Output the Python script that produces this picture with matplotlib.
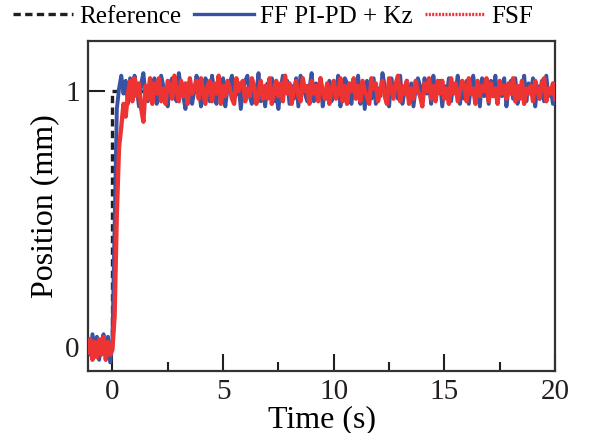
import numpy as np
import matplotlib
matplotlib.use("Agg")
import matplotlib.pyplot as plt
from matplotlib.lines import Line2D
from matplotlib.ticker import MultipleLocator

plt.rcParams['font.family'] = ['Liberation Serif', 'DejaVu Serif']

# time grid: 0.1 s samples from -1.1 s to 20 s
t_start = -1.1
dt = 0.1

# step reference
ref_t = [-1.1, 0.0, 0.0, 20.0]
ref_y = [0.0, 0.0, 1.0, 1.0]

# FF PI-PD + Kz (blue)
blue = [
    0.03, -0.03, 0.05, -0.02, 0.04, -0.05, 0.02, 0.05, -0.03, 0.04,
    -0.06, 0.02, 0.48, 0.93, 1.01, 1.06, 0.99, 1.04, 0.95, 1.05,
    0.97, 1.06, 1.01, 0.94, 1.03, 1.07, 0.98, 0.96, 1.04, 1.00,
    1.05, 0.95, 0.99, 1.06, 1.02, 0.97, 0.94, 1.03, 1.05, 0.99,
    0.96, 1.07, 1.01, 0.98, 0.93, 1.02, 1.04, 0.95, 1.00, 1.06,
    1.02, 0.94, 0.99, 1.05, 1.03, 0.96, 1.06, 1.00, 0.95, 1.04,
    0.98, 1.05, 0.94, 1.01, 1.03, 1.06, 0.97, 0.99, 1.03, 0.93,
    1.01, 1.04, 1.06, 0.98, 0.95, 1.02, 0.99, 1.07, 0.96, 1.01,
    0.94, 1.03, 1.00, 1.05, 0.96, 0.98, 0.93, 1.01, 1.06, 1.02,
    1.04, 0.95, 1.02, 0.97, 1.05, 0.94, 1.06, 1.01, 0.99, 0.96,
    1.01, 1.07, 0.96, 1.03, 0.98, 1.05, 0.94, 1.00, 0.97, 1.04,
    0.96, 1.02, 0.99, 1.06, 0.94, 1.01, 1.05, 1.03, 0.97, 0.95,
    1.04, 0.99, 1.06, 0.95, 1.02, 0.93, 1.04, 1.00, 0.97, 1.05,
    0.95, 1.01, 0.98, 1.07, 1.02, 0.96, 0.94, 1.05, 0.99, 1.03,
    0.97, 1.06, 0.95, 1.00, 1.04, 0.96, 1.03, 0.94, 1.01, 1.05,
    1.02, 0.96, 1.05, 0.99, 1.03, 0.95, 1.06, 0.98, 1.00, 1.04,
    0.94, 1.02, 0.98, 1.05, 0.96, 1.03, 1.00, 1.06, 0.95, 1.01,
    0.97, 1.04, 0.95, 1.02, 1.06, 0.99, 1.03, 0.94, 1.05, 0.98,
    1.02, 0.95, 1.04, 0.99, 1.06, 0.96, 1.01, 0.98, 1.05, 0.94,
    1.01, 1.04, 0.97, 1.05, 0.95, 1.02, 0.99, 1.06, 0.96, 1.03,
    0.99, 1.05, 0.94, 1.02, 0.97, 1.04, 0.96, 1.06, 0.98, 1.01,
    0.95, 1.03,
]

# FSF (red)
red = [
    -0.02, 0.03, -0.05, 0.02, -0.04, 0.03, -0.03, 0.04, -0.05, 0.02,
    -0.03, -0.01, 0.12, 0.52, 0.78, 0.86, 0.95, 0.90, 0.99, 1.04,
    0.96, 1.05, 0.98, 1.03, 0.93, 0.88, 1.02, 0.97, 1.05, 0.95,
    1.03, 0.99, 1.05, 0.96, 1.01, 0.95, 1.04, 1.02, 0.97, 1.06,
    1.00, 0.96, 1.04, 0.98, 1.03, 0.95, 1.05, 0.99, 1.01, 1.04,
    0.97, 1.05, 1.00, 0.95, 1.02, 1.04, 0.96, 1.03, 0.99, 1.06,
    0.95, 1.02, 0.98, 1.04, 1.01, 0.97, 0.95, 1.05, 1.00, 1.03,
    1.04, 0.96, 1.01, 0.98, 1.05, 1.02, 0.95, 0.99, 1.04, 0.97,
    1.02, 0.97, 1.05, 0.95, 1.00, 1.04, 0.98, 1.03, 0.96, 1.06,
    0.99, 1.03, 0.95, 1.01, 1.04, 0.98, 0.96, 1.05, 1.00, 1.02,
    0.95, 1.04, 0.99, 1.02, 0.96, 1.05, 1.00, 0.97, 1.03, 0.95,
    1.01, 1.04, 0.97, 0.99, 1.05, 0.96, 1.02, 0.95, 1.03, 1.00,
    1.05, 0.97, 1.02, 0.96, 1.04, 1.00, 0.98, 0.95, 1.05, 1.01,
    1.03, 0.96, 1.00, 1.04, 0.98, 0.95, 1.05, 1.01, 0.97, 1.03,
    1.06, 0.96, 1.02, 0.99, 1.04, 0.95, 1.01, 0.97, 1.04, 1.00,
    0.98, 0.94, 1.03, 1.00, 1.05, 0.97, 1.02, 0.96, 1.04, 0.99,
    1.04, 0.97, 1.01, 0.95, 1.05, 0.99, 1.03, 0.96, 1.00, 1.04,
    1.02, 0.96, 1.05, 0.99, 1.01, 0.95, 1.04, 0.98, 1.02, 1.00,
    1.05, 0.96, 1.03, 0.98, 1.01, 0.95, 1.04, 0.99, 1.02, 0.97,
    1.03, 0.99, 1.05, 0.96, 1.02, 0.97, 1.04, 0.95, 1.01, 0.99,
    1.02, 0.96, 1.04, 1.00, 0.97, 1.03, 1.05, 0.96, 1.01, 0.99,
    1.03, 0.97,
]

t_blue = t_start + dt * np.arange(len(blue))
t_red = t_start + dt * np.arange(len(red))

c_blue = '#3953a4'
c_red = '#ee3432'
c_black = '#231f20'

fig = plt.figure(figsize=(5.95, 4.33), dpi=100)
ax = fig.add_axes([0.148, 0.143, 0.785, 0.762])

ax.plot(ref_t, ref_y, color=c_black, lw=2.4, ls=(0, (2.2, 1.3)), zorder=2)
ax.plot(t_blue, blue, color=c_blue, lw=2.8, zorder=3)
ax.plot(t_red, red, color=c_red, lw=3.1, zorder=4)

ax.set_xlim(-1.1, 20)
ax.set_ylim(-0.094, 1.195)
ax.set_xticks([0, 5, 10, 15, 20])
ax.xaxis.set_minor_locator(MultipleLocator(2.5))
ax.set_yticks([0, 1])

ax.tick_params(which='both', direction='in', width=1.5, labelsize=21, colors=c_black)
ax.tick_params(which='major', length=12)
ax.tick_params(which='minor', length=6.5)
ax.tick_params(axis='x', pad=6)
ax.tick_params(axis='y', pad=6)
for s in ax.spines.values():
    s.set_linewidth(1.6)
    s.set_color('#333333')

ax.set_xlabel('Time (s)', fontsize=23, labelpad=0)
ax.set_ylabel('Position (mm)', fontsize=23, labelpad=4)

handles = [
    Line2D([], [], color=c_black, lw=2.4, ls=(0, (2.2, 1.3))),
    Line2D([], [], color=c_blue, lw=2.4),
    Line2D([], [], color=c_red, lw=2.4, ls=(0, (0.6, 0.4))),
]
labels = ['Reference', 'FF PI-PD + Kz', 'FSF']
fig.legend(handles, labels, loc='center', bbox_to_anchor=(0.459, 0.962), ncol=3,
           frameon=False, fontsize=18, handlelength=2.4, handletextpad=0.25,
           columnspacing=0.5, borderpad=0, borderaxespad=0)

fig.savefig('out.png', dpi=100)
